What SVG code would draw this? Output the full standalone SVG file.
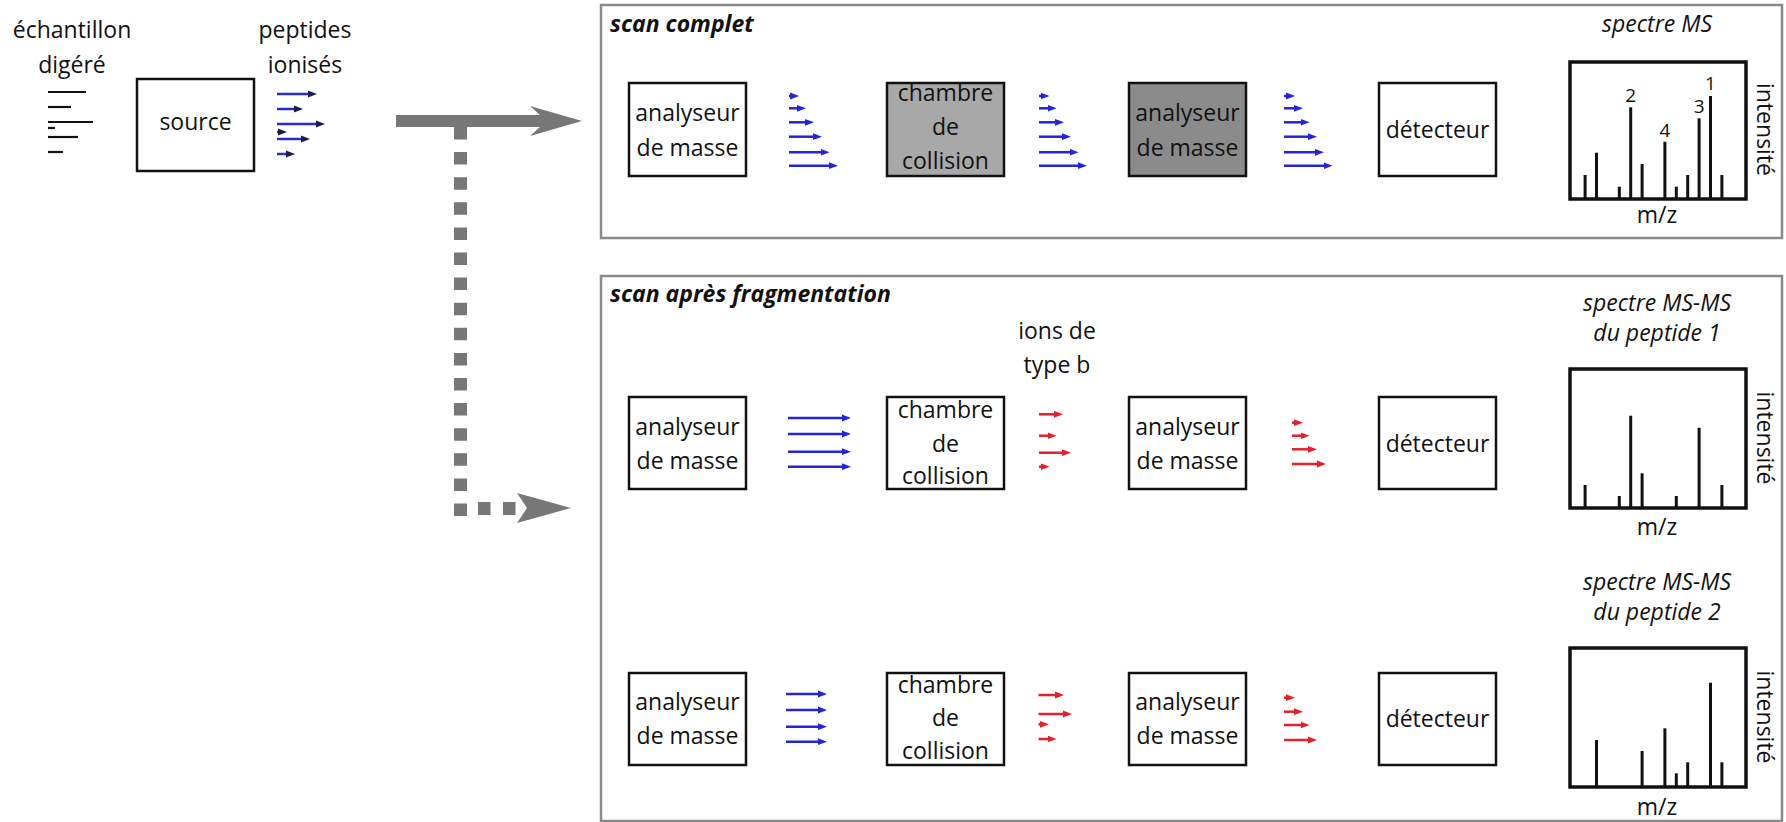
<svg xmlns="http://www.w3.org/2000/svg" width="1786" height="822" viewBox="0 0 1786 822">
<style>
.t{font-family:"Open Sans","Liberation Sans",sans-serif;font-size:23px;fill:#111;text-anchor:middle}
.ti{font-style:italic}
.tb{font-family:"Open Sans","Liberation Sans",sans-serif;font-size:23px;font-weight:bold;font-style:italic;fill:#111}
.num{font-size:19px}
.box{fill:#fff;stroke:#111;stroke-width:2.5}
.panel{fill:#fff;stroke:#8a8a8a;stroke-width:2.5}
.spec{fill:none;stroke:#111;stroke-width:3.5}
.pk{stroke:#111;stroke-width:3}
.blk{stroke:#111;stroke-width:2.2}
.b{stroke:#2424d8;stroke-width:2.5;marker-end:url(#hb)}
.bs{stroke:#2a2ad0;stroke-width:2.5;marker-end:url(#hk)}
.r{stroke:#e3202b;stroke-width:2.5;marker-end:url(#hr)}
.dot{stroke:#777;stroke-width:13;fill:none}
</style>
<defs>
<marker id="hb" markerUnits="userSpaceOnUse" markerWidth="10" markerHeight="8" refX="4" refY="4" orient="auto"><path d="M0,0.6 L9,4 L0,7.4 z" fill="#2424d8"/></marker>
<marker id="hr" markerUnits="userSpaceOnUse" markerWidth="10" markerHeight="8" refX="4" refY="4" orient="auto"><path d="M0,0.6 L9,4 L0,7.4 z" fill="#e3202b"/></marker>
<marker id="hk" markerUnits="userSpaceOnUse" markerWidth="10" markerHeight="8" refX="4" refY="4" orient="auto"><path d="M0,0.6 L9,4 L0,7.4 z" fill="#1c1c4a"/></marker>
</defs>
<rect width="1786" height="822" fill="#fff"/>

<g id="panel-scan-complet">
<rect class="panel" x="601" y="5" width="1181" height="233"/>
<text class="tb" x="610" y="32">scan complet</text>
</g>
<g id="panel-scan-fragmentation">
<rect class="panel" x="601" y="276" width="1181" height="545"/>
<text class="tb" x="610" y="302">scan après fragmentation</text>
</g>

<g id="echantillon">
<text class="t" x="72" y="38">échantillon</text>
<text class="t" x="72" y="73">digéré</text>
<line class="blk" x1="48" y1="92" x2="86" y2="92"/>
<line class="blk" x1="48" y1="107" x2="71" y2="107"/>
<line class="blk" x1="48" y1="122" x2="93" y2="122"/>
<line class="blk" x1="48" y1="128" x2="55" y2="128"/>
<line class="blk" x1="48" y1="137" x2="78" y2="137"/>
<line class="blk" x1="48" y1="152" x2="63" y2="152"/>
</g>
<g id="source">
<rect class="box" x="137" y="79" width="117" height="92"/>
<text class="t" x="195.5" y="130">source</text>
</g>
<g id="peptides-ionises">
<text class="t" x="305" y="38">peptides</text>
<text class="t" x="305" y="73">ionisés</text>
</g>

<!-- top row -->
<g id="analyseur-1">
<rect class="box" x="629" y="83" width="117" height="93"/>
<text class="t" x="687.5" y="121">analyseur</text>
<text class="t" x="687.5" y="156">de masse</text>
</g>
<g id="chambre-1">
<rect class="box" x="887" y="83" width="117" height="93" style="fill:#a8a8a8"/>
<text class="t" x="945.5" y="101">chambre</text>
<text class="t" x="945.5" y="135">de</text>
<text class="t" x="945.5" y="169">collision</text>
</g>
<g id="analyseur-2">
<rect class="box" x="1129" y="83" width="117" height="93" style="fill:#8b8b8b"/>
<text class="t" x="1187.5" y="121">analyseur</text>
<text class="t" x="1187.5" y="156">de masse</text>
</g>
<g id="detecteur-1">
<rect class="box" x="1379" y="83" width="117" height="93"/>
<text class="t" x="1437.5" y="138">détecteur</text>
</g>
<g id="spectre-ms">
<text class="t ti" x="1657" y="32">spectre MS</text>
<rect class="spec" x="1570" y="62" width="176" height="137"/>
<line class="pk" x1="1585.1" y1="199" x2="1585.1" y2="175"/>
<line class="pk" x1="1596.5" y1="199" x2="1596.5" y2="152.7"/>
<line class="pk" x1="1619.3" y1="199" x2="1619.3" y2="186.7"/>
<line class="pk" x1="1630.7" y1="199" x2="1630.7" y2="107.3"/>
<line class="pk" x1="1642.1" y1="199" x2="1642.1" y2="164"/>
<line class="pk" x1="1664.9" y1="199" x2="1664.9" y2="141.7"/>
<line class="pk" x1="1676.3" y1="199" x2="1676.3" y2="186.7"/>
<line class="pk" x1="1687.7" y1="199" x2="1687.7" y2="175"/>
<line class="pk" x1="1699.1" y1="199" x2="1699.1" y2="118.3"/>
<line class="pk" x1="1710.5" y1="199" x2="1710.5" y2="96"/>
<line class="pk" x1="1721.9" y1="199" x2="1721.9" y2="175"/>
<text class="t num" x="1630.7" y="102">2</text>
<text class="t num" x="1664.9" y="137">4</text>
<text class="t num" x="1699.1" y="113">3</text>
<text class="t num" x="1710.5" y="90">1</text>
<text class="t" x="1657" y="223">m/z</text>
<text class="t" transform="translate(1757,129.5) rotate(90)">intensité</text>
</g>

<!-- row 2 -->
<g id="analyseur-3">
<rect class="box" x="629" y="397" width="117" height="92"/>
<text class="t" x="687.5" y="435">analyseur</text>
<text class="t" x="687.5" y="469">de masse</text>
</g>
<g id="chambre-2">
<rect class="box" x="887" y="397" width="117" height="92"/>
<text class="t" x="945.5" y="418">chambre</text>
<text class="t" x="945.5" y="452">de</text>
<text class="t" x="945.5" y="484">collision</text>
</g>
<g id="ions-type-b">
<text class="t" x="1057" y="339">ions de</text>
<text class="t" x="1057" y="373">type b</text>
</g>
<g id="analyseur-4">
<rect class="box" x="1129" y="397" width="117" height="92"/>
<text class="t" x="1187.5" y="435">analyseur</text>
<text class="t" x="1187.5" y="469">de masse</text>
</g>
<g id="detecteur-2">
<rect class="box" x="1379" y="397" width="117" height="92"/>
<text class="t" x="1437.5" y="452">détecteur</text>
</g>
<g id="spectre-msms-1">
<text class="t ti" x="1657" y="311">spectre MS-MS</text>
<text class="t ti" x="1657" y="341">du peptide 1</text>
<rect class="spec" x="1570" y="369" width="176" height="139"/>
<line class="pk" x1="1585.1" y1="508" x2="1585.1" y2="485"/>
<line class="pk" x1="1619.3" y1="508" x2="1619.3" y2="496"/>
<line class="pk" x1="1630.7" y1="508" x2="1630.7" y2="415.7"/>
<line class="pk" x1="1642.1" y1="508" x2="1642.1" y2="473.3"/>
<line class="pk" x1="1676.3" y1="508" x2="1676.3" y2="496"/>
<line class="pk" x1="1699.1" y1="508" x2="1699.1" y2="427.7"/>
<line class="pk" x1="1721.9" y1="508" x2="1721.9" y2="485"/>
<text class="t" x="1657" y="535">m/z</text>
<text class="t" transform="translate(1757,438) rotate(90)">intensité</text>
</g>

<!-- row 3 -->
<g id="analyseur-5">
<rect class="box" x="629" y="673" width="117" height="92"/>
<text class="t" x="687.5" y="710">analyseur</text>
<text class="t" x="687.5" y="744">de masse</text>
</g>
<g id="chambre-3">
<rect class="box" x="887" y="673" width="117" height="92"/>
<text class="t" x="945.5" y="693">chambre</text>
<text class="t" x="945.5" y="726">de</text>
<text class="t" x="945.5" y="759">collision</text>
</g>
<g id="analyseur-6">
<rect class="box" x="1129" y="673" width="117" height="92"/>
<text class="t" x="1187.5" y="710">analyseur</text>
<text class="t" x="1187.5" y="744">de masse</text>
</g>
<g id="detecteur-3">
<rect class="box" x="1379" y="673" width="117" height="92"/>
<text class="t" x="1437.5" y="727">détecteur</text>
</g>
<g id="spectre-msms-2">
<text class="t ti" x="1657" y="590">spectre MS-MS</text>
<text class="t ti" x="1657" y="620">du peptide 2</text>
<rect class="spec" x="1570" y="648" width="176" height="139"/>
<line class="pk" x1="1596.5" y1="787" x2="1596.5" y2="740"/>
<line class="pk" x1="1642.1" y1="787" x2="1642.1" y2="751"/>
<line class="pk" x1="1664.9" y1="787" x2="1664.9" y2="728.3"/>
<line class="pk" x1="1676.3" y1="787" x2="1676.3" y2="773.3"/>
<line class="pk" x1="1687.7" y1="787" x2="1687.7" y2="762.3"/>
<line class="pk" x1="1710.5" y1="787" x2="1710.5" y2="682.7"/>
<line class="pk" x1="1721.9" y1="787" x2="1721.9" y2="762.3"/>
<text class="t" x="1657" y="815">m/z</text>
<text class="t" transform="translate(1757,717) rotate(90)">intensité</text>
</g>

<g id="connectors">
<!-- big gray arrows -->
<polygon points="396,115 540,115 530,106 582,121 530,136 540,127 396,127" fill="#777"/>
<line class="dot" x1="460.5" y1="127" x2="460.5" y2="516" stroke-dasharray="12.5 12.6"/>
<line class="dot" x1="478" y1="508.5" x2="517" y2="508.5" stroke-dasharray="12.5 12.5"/>
<polygon points="517,493 571,508 517,523 527,508" fill="#777"/>

<!-- source ions -->
<line class="bs" x1="277" y1="94" x2="312" y2="94"/>
<line class="bs" x1="277" y1="109" x2="298" y2="109"/>
<line class="bs" x1="277" y1="124" x2="320" y2="124"/>
<line class="bs" x1="277" y1="132" x2="282" y2="132"/>
<line class="bs" x1="277" y1="139" x2="305" y2="139"/>
<line class="bs" x1="277" y1="154" x2="290" y2="154"/>

<!-- top row beams -->
<line class="b" x1="789" y1="96" x2="794" y2="96"/>
<line class="b" x1="789" y1="108.3" x2="801" y2="108.3"/>
<line class="b" x1="789" y1="122.3" x2="809" y2="122.3"/>
<line class="b" x1="789" y1="136.7" x2="817" y2="136.7"/>
<line class="b" x1="789" y1="152.3" x2="824.5" y2="152.3"/>
<line class="b" x1="789" y1="165.7" x2="833" y2="165.7"/>

<line class="b" x1="1039" y1="96" x2="1044.5" y2="96"/>
<line class="b" x1="1039" y1="108.3" x2="1051.5" y2="108.3"/>
<line class="b" x1="1039" y1="122.3" x2="1059" y2="122.3"/>
<line class="b" x1="1039" y1="136.7" x2="1066" y2="136.7"/>
<line class="b" x1="1039" y1="152.3" x2="1073.5" y2="152.3"/>
<line class="b" x1="1039" y1="165.7" x2="1082" y2="165.7"/>

<line class="b" x1="1284" y1="96" x2="1290" y2="96"/>
<line class="b" x1="1284" y1="108.3" x2="1298" y2="108.3"/>
<line class="b" x1="1284" y1="122.3" x2="1304.5" y2="122.3"/>
<line class="b" x1="1284" y1="136.7" x2="1312" y2="136.7"/>
<line class="b" x1="1284" y1="152.3" x2="1319" y2="152.3"/>
<line class="b" x1="1284" y1="165.7" x2="1327.5" y2="165.7"/>

<!-- row 2 beams -->
<line class="b" x1="788" y1="418" x2="846" y2="418"/>
<line class="b" x1="788" y1="434" x2="846" y2="434"/>
<line class="b" x1="788" y1="451.7" x2="846" y2="451.7"/>
<line class="b" x1="788" y1="466.7" x2="846" y2="466.7"/>

<line class="r" x1="1039" y1="414.3" x2="1058" y2="414.3"/>
<line class="r" x1="1039" y1="435.7" x2="1051.5" y2="435.7"/>
<line class="r" x1="1039" y1="452.7" x2="1066" y2="452.7"/>
<line class="r" x1="1039" y1="466.7" x2="1044.5" y2="466.7"/>

<line class="r" x1="1292" y1="422.7" x2="1298" y2="422.7"/>
<line class="r" x1="1292" y1="435.7" x2="1304.5" y2="435.7"/>
<line class="r" x1="1292" y1="449.3" x2="1312" y2="449.3"/>
<line class="r" x1="1292" y1="464" x2="1321" y2="464"/>

<!-- row 3 beams -->
<line class="b" x1="786" y1="694" x2="822" y2="694"/>
<line class="b" x1="786" y1="710" x2="822" y2="710"/>
<line class="b" x1="786" y1="726.7" x2="822" y2="726.7"/>
<line class="b" x1="786" y1="741.7" x2="822" y2="741.7"/>

<line class="r" x1="1038.5" y1="695" x2="1059" y2="695"/>
<line class="r" x1="1038.5" y1="714" x2="1067" y2="714"/>
<line class="r" x1="1038.5" y1="724.3" x2="1044" y2="724.3"/>
<line class="r" x1="1038.5" y1="739" x2="1051.5" y2="739"/>

<line class="r" x1="1284" y1="697.7" x2="1290" y2="697.7"/>
<line class="r" x1="1284" y1="711.7" x2="1298" y2="711.7"/>
<line class="r" x1="1284" y1="725" x2="1304.5" y2="725"/>
<line class="r" x1="1284" y1="740" x2="1312" y2="740"/>
</g>
</svg>
